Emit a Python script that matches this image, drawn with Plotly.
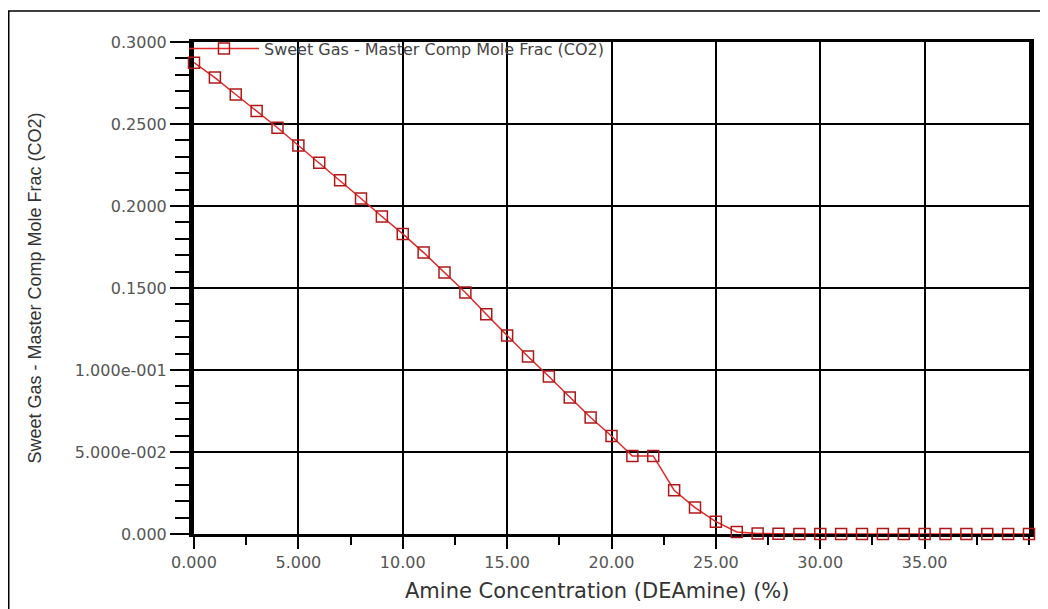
import plotly.graph_objects as go

# Data
amine_conc = list(range(0, 41))
co2_frac = [0.2874, 0.2783, 0.2680, 0.2579, 0.2477, 0.2369, 0.2263, 0.2157, 0.2046, 0.1936,
            0.1830, 0.1716, 0.1594, 0.1473, 0.1340, 0.1210, 0.1082, 0.0960, 0.0832, 0.0710,
            0.0598, 0.0476, 0.0476, 0.0267, 0.0161, 0.0075, 0.0012, 0.0003, 0.0001, 0.0,
            0.0, 0.0, 0.0, 0.0, 0.0, 0.0, 0.0, 0.0, 0.0, 0.0, 0.0]

series_name = "Sweet Gas - Master Comp Mole Frac (CO2)"
x_title = "Amine Concentration (DEAmine) (%)"
y_title = "Sweet Gas - Master Comp Mole Frac (CO2)"

x_tickvals = [0, 5, 10, 15, 20, 25, 30, 35]
x_ticktext = ["0.000", "5.000", "10.00", "15.00", "20.00", "25.00", "30.00", "35.00"]
y_tickvals = [0, 0.05, 0.10, 0.15, 0.20, 0.25, 0.30]
y_ticktext = ["0.000", "5.000e-002", "1.000e-001", "0.1500", "0.2000", "0.2500", "0.3000"]

# page body has an 8px margin, so the figure is sized to fit inside the window
W, H = 1040, 601
L, R, T, B = 186, 19, 34, 75
pw, ph = W - L - R, H - T - B

fig = go.Figure()
fig.add_trace(go.Scatter(
    x=amine_conc, y=co2_frac, mode="lines+markers", name=series_name,
    line=dict(color="#e02828", width=1.5),
    marker=dict(symbol="square-open", size=11, color="#b01818", line=dict(width=1.5)),
    cliponaxis=False,
))

tick_font = dict(family="DejaVu Sans, Verdana, sans-serif", size=16, color="#555555")

fig.update_layout(
    width=W, height=H,
    margin=dict(l=L, r=R, t=T, b=B),
    paper_bgcolor="white", plot_bgcolor="white",
    showlegend=True,
    legend=dict(x=-0.012, y=1.021, xanchor="left", yanchor="top",
                bgcolor="rgba(0,0,0,0)", borderwidth=0,
                font=dict(family="DejaVu Sans, Verdana, sans-serif", size=16, color="#444444"),
                itemwidth=70),
    xaxis=dict(
        range=[0, 40.0], tickvals=x_tickvals, ticktext=x_ticktext,
        showgrid=True, gridcolor="black", gridwidth=1.5,
        showline=True, linecolor="black", linewidth=3, mirror=True,
        ticks="outside", ticklen=12, tickwidth=1.5, tickcolor="black",
        minor=dict(dtick=2.5, ticks="outside", ticklen=8, tickwidth=1.5, tickcolor="black", showgrid=False),
        tickfont=tick_font, zeroline=False, layer="below traces", automargin=False,
    ),
    yaxis=dict(
        range=[0, 0.3], tickvals=y_tickvals, ticktext=y_ticktext,
        showgrid=True, gridcolor="black", gridwidth=1.5,
        showline=True, linecolor="black", linewidth=5, mirror=True,
        ticks="outside", ticklen=19, tickwidth=1.5, tickcolor="black",
        minor=dict(dtick=0.01, ticks="outside", ticklen=14, tickwidth=1.5, tickcolor="black", showgrid=False),
        tickfont=tick_font, zeroline=False, layer="below traces",
        title=dict(text=y_title, font=dict(family="Liberation Sans Narrow, Liberation Sans, Arial, sans-serif", size=18, color="#333333"),
                   standoff=30),
    ),
    annotations=[dict(text=x_title, xref="paper", yref="paper",
                      x=(589 - L) / pw, y=(T + ph - 583) / ph,
                      xanchor="center", yanchor="middle", showarrow=False,
                      font=dict(family="DejaVu Sans, Verdana, sans-serif", size=21, color="#333333"))],
    shapes=[dict(type="rect", xref="paper", yref="paper",
                 x0=(0.75 - L) / pw, x1=(W + 20 - L) / pw,
                 y0=-(H + 20 - T - ph) / ph, y1=(H - B - 3) / ph,
                 line=dict(color="black", width=1.5), layer="below")],
)

fig.write_html("out.html")
